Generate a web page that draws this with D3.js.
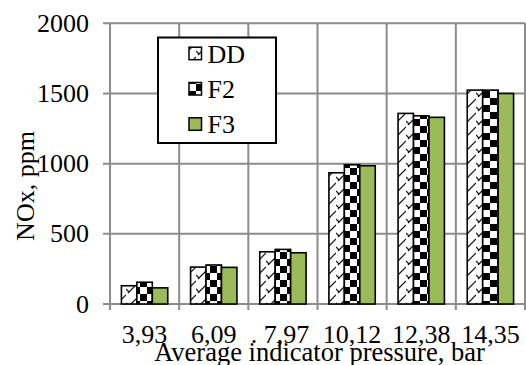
<!DOCTYPE html>
<html><head><meta charset="utf-8">
<script src="https://cdn.jsdelivr.net/npm/d3@7"></script>
<style>html,body{margin:0;padding:0;background:#fff;overflow:hidden}
text{font-family:"Liberation Serif","Times New Roman",Times,serif}</style>
</head><body>
<svg id="c" width="526" height="365"></svg>
<script>
const categories = ["3,93", "6,09", "7,97", "10,12", "12,38", "14,35"];
const tickLabels = ["3,93", "6,09", ". 7,97", "10,12", "12,38", "14,35"];
const seriesNames = ["DD", "F2", "F3"];
const DD = [130, 263, 372, 935, 1358, 1524];
const F2 = [155, 278, 389, 992, 1341, 1524];
const F3 = [115, 261, 365, 985, 1330, 1500];
const yTicks = [0, 500, 1000, 1500, 2000];
const xTitle = "Average indicator pressure, bar";
const yTitle = "NOx, ppm";

(function () {
const values = {DD, F2, F3};
const fills = {DD: "url(#pDD)", F2: "url(#pF2)", F3: "#9bbb59"};
const grid = "#8c8c8c";

const svg = d3.select("#c");
const pl = 110, pr = 525, pt = 23.3, pb = 304;

const defs = svg.append("defs");
const pd = defs.append("pattern").attr("id", "pDD").attr("patternUnits", "userSpaceOnUse")
  .attr("width", 14).attr("height", 14);
pd.append("rect").attr("width", 14).attr("height", 14).attr("fill", "#fff");
pd.append("path").attr("d", "M2,13 L14,1 M0,9 L3,12").attr("stroke", "#111").attr("stroke-width", 1.2).attr("fill", "none");
const pc = defs.append("pattern").attr("id", "pF2").attr("patternUnits", "userSpaceOnUse")
  .attr("width", 14).attr("height", 14);
pc.append("rect").attr("width", 14).attr("height", 14).attr("fill", "#fff");
pc.append("rect").attr("x", 0).attr("y", 0).attr("width", 7).attr("height", 7).attr("fill", "#000");
pc.append("rect").attr("x", 7).attr("y", 7).attr("width", 7).attr("height", 7).attr("fill", "#000");

const x0 = d3.scaleBand().domain(categories).range([pl, pr]).paddingInner(0.33).paddingOuter(0.165);
const x1 = d3.scaleBand().domain(seriesNames).range([0, x0.bandwidth()]).padding(0);
const y = d3.scaleLinear().domain([0, 2000]).range([pb, pt]);

const step = x0.step();
const bounds = d3.range(categories.length + 1).map(i => pl + i * step);

svg.append("g").selectAll("line").data(yTicks).join("line")
  .attr("x1", pl - 7).attr("x2", pr).attr("y1", d => y(d)).attr("y2", d => y(d))
  .attr("stroke", grid).attr("stroke-width", 2);
svg.append("g").selectAll("line").data(bounds).join("line")
  .attr("x1", d => d).attr("x2", d => d).attr("y1", pt).attr("y2", pb + 6)
  .attr("stroke", grid).attr("stroke-width", 2);

const g = svg.append("g");
categories.forEach((c, i) => {
  seriesNames.forEach(s => {
    const v = values[s][i];
    g.append("rect")
      .attr("x", x0(c) + x1(s)).attr("width", x1.bandwidth())
      .attr("y", y(v)).attr("height", y(0) - y(v))
      .attr("fill", fills[s]).attr("stroke", "#000").attr("stroke-width", 1.6);
  });
});

svg.append("g").selectAll("text").data(yTicks).join("text")
  .attr("x", 89).attr("y", d => y(d)).attr("dy", "0.33em")
  .attr("text-anchor", "end").attr("font-size", 26)
  .text(d => d);

svg.append("g").selectAll("text").data(categories).join("text")
  .attr("x", (d, i) => x0(d) + x0.bandwidth() / 2 - (i === 2 ? 3 : 0)).attr("y", 343)
  .attr("text-anchor", "middle").attr("font-size", 26)
  .text((d, i) => tickLabels[i]);

svg.append("text").attr("x", (pl + pr) / 2 + 2).attr("y", 361)
  .attr("text-anchor", "middle").attr("font-size", 26.5)
  .text(xTitle);
svg.append("text").attr("transform", "translate(34,186) rotate(-90)")
  .attr("text-anchor", "middle").attr("font-size", 26)
  .text(yTitle);

const lg = svg.append("g");
lg.append("rect").attr("x", 158).attr("y", 37.5).attr("width", 118).attr("height", 105.5)
  .attr("fill", "#fff").attr("stroke", "#000").attr("stroke-width", 2);
seriesNames.forEach((s, i) => {
  const by = 62.7 + i * 35.3;
  lg.append("rect").attr("x", 189).attr("y", by - 15.5).attr("width", 12.5).attr("height", 12.5)
    .attr("fill", fills[s]).attr("stroke", "#000").attr("stroke-width", 1.5);
  lg.append("text").attr("x", 207.5).attr("y", by).attr("font-size", 26).text(s);
});
})();
</script>
</body></html>
